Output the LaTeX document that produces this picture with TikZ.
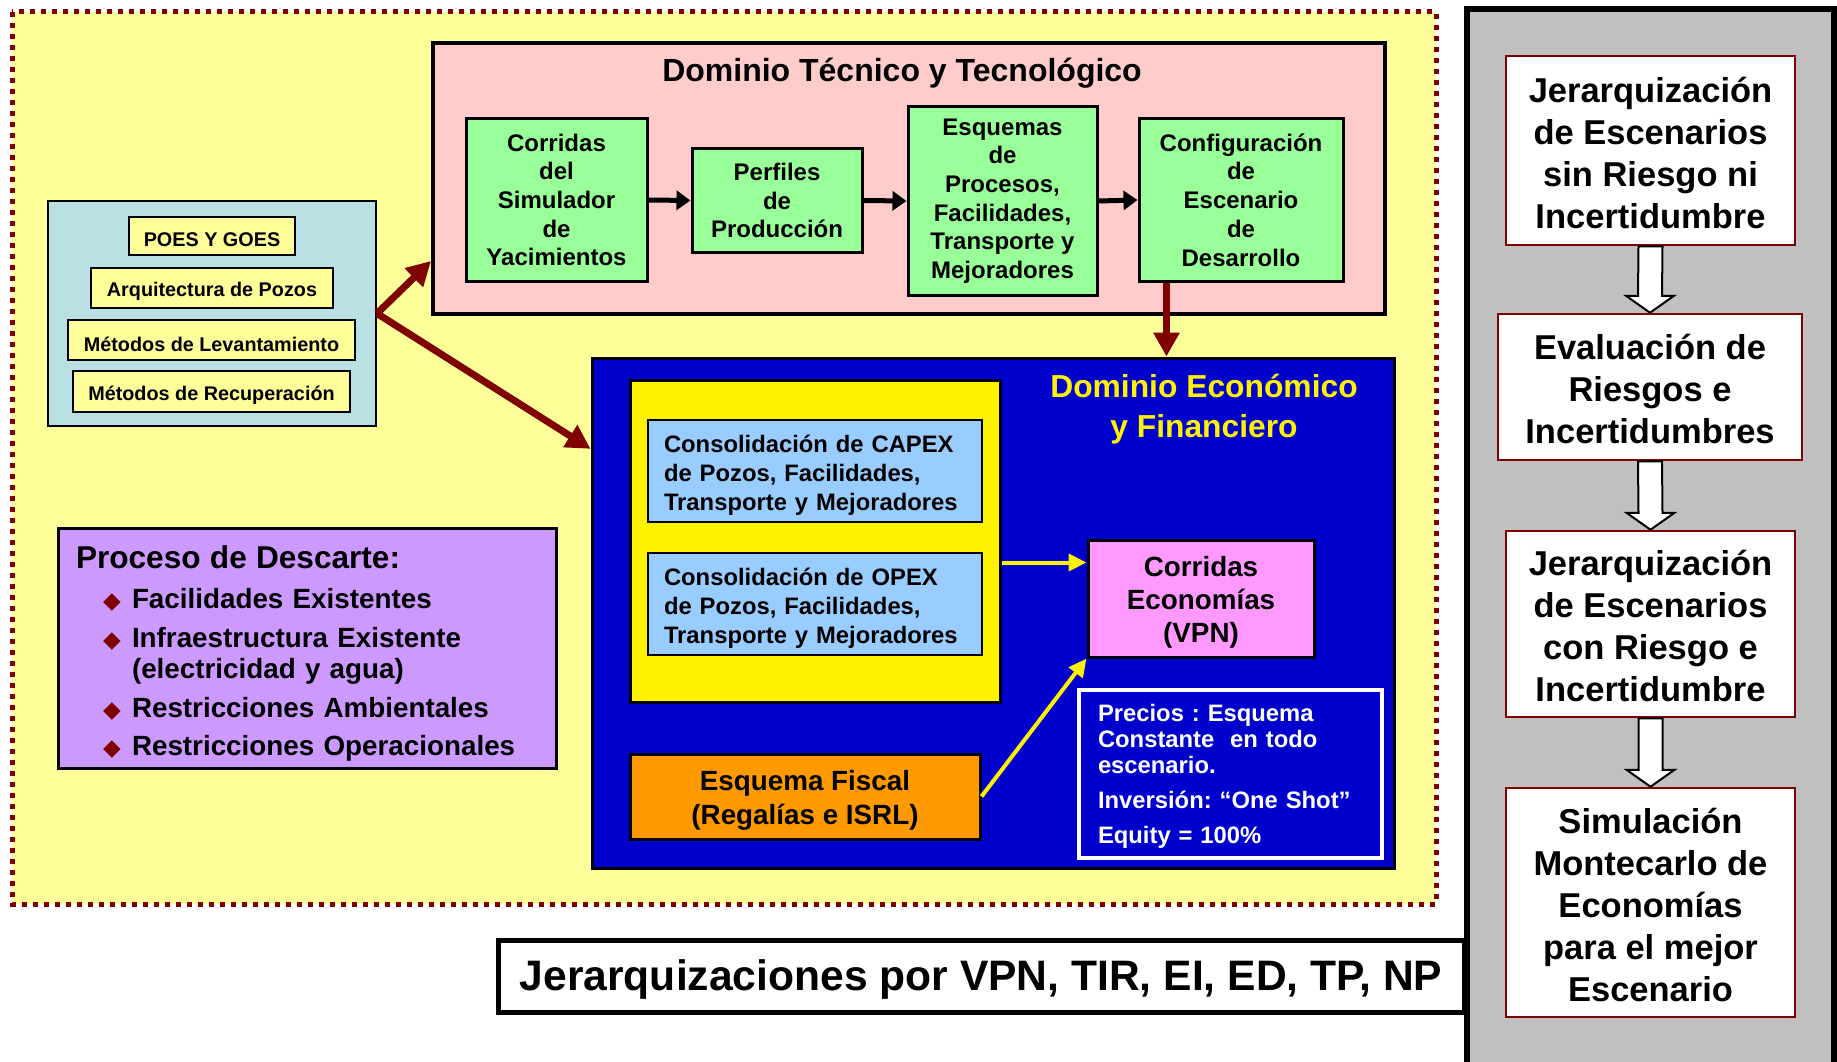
\documentclass[tikz,border=0pt]{standalone}
\usepackage{fontspec}
\setmainfont{Liberation Sans}
\newfontfamily\symfont{DejaVu Sans}
\usetikzlibrary{arrows.meta,calc}
\definecolor{maroon}{HTML}{800000}
\definecolor{bgyellow}{HTML}{FFFF99}
\definecolor{tecpink}{HTML}{FFCCCC}
\definecolor{tecgreen}{HTML}{99FF99}
\definecolor{poesblue}{HTML}{BBE0E3}
\definecolor{econblue}{HTML}{0000CC}
\definecolor{capexblue}{HTML}{99CCFF}
\definecolor{vpnpink}{HTML}{FF99FF}
\definecolor{fiscalorange}{HTML}{FF9900}
\definecolor{descpurple}{HTML}{CC99FF}
\definecolor{colgray}{HTML}{C0C0C0}
\newcommand{\dbul}{\hspace*{27pt}\makebox[29pt][l]{\symfont\fontsize{23}{23}\selectfont\color{maroon}◆}}
\newcommand{\dn}[1]{\rule{0pt}{#1pt}}
\tikzset{
  box/.style={draw, rectangle, align=center, inner sep=0pt},
  greenbox/.style={box, fill=tecgreen, line width=3pt, font=\bfseries\fontsize{24}{28.7}\selectfont},
  poesitem/.style={box, fill=bgyellow, line width=2.5pt, font=\bfseries\fontsize{19.8}{24}\selectfont},
  capexbox/.style={box, fill=capexblue, line width=2.5pt, minimum width=334, minimum height=102,
    align=left, text width=302, font=\bfseries\fontsize{23.8}{29}\selectfont},
  stepbox/.style={box, draw=maroon, fill=white, line width=2.5pt, minimum width=289,
    font=\bfseries\fontsize{34.5}{42}\selectfont},
  brownarrow/.style={maroon, line width=7pt, -{Triangle[length=24pt,width=25pt]}},
  blackarrow/.style={black, line width=5pt, -{Triangle[length=14pt,width=19pt]}},
  yellowarrow/.style={yellow, line width=4pt, -{Triangle[length=18pt,width=17pt]}}
}
\newcommand{\blockarrow}[2]{%
  \draw[fill=white, line width=2pt, line join=miter]
    ($(#1.south)+(-12,0)$) -- ($(#2.north)+(-12,-17)$) -- ($(#2.north)+(-24,-17)$) --
    (#2.north) -- ($(#2.north)+(24,-17)$) -- ($(#2.north)+(12,-17)$) --
    ($(#1.south)+(12,0)$) -- cycle;}
\begin{document}
\frenchspacing
\begin{tikzpicture}[x=1pt,y=-1pt]
  \useasboundingbox (0,0) rectangle (1837,1062);
  \fill[bgyellow] (12,12) rectangle (1436,904);
  \draw[maroon, line width=5pt, dash pattern=on 5pt off 6pt] (12,12) rectangle (1436,904);

  \node[box, fill=tecpink, line width=4pt, minimum width=952, minimum height=271] (tecnico) at (909,178.5) {};
  \node[font=\bfseries\fontsize{32}{36}\selectfont] (tectitle) at (902,70) {\dn{30}Dominio Técnico y Tecnológico};
  \node[greenbox, minimum width=181, minimum height=162] (sim) at (556.5,200) {Corridas\\del\\Simulador\\de\\Yacimientos};
  \node[greenbox, minimum width=170, minimum height=103] (perfiles) at (777,200.5) {Perfiles\\de\\Producción};
  \node[greenbox, minimum width=189, minimum height=188] (esquemas) at (1002.5,201) {Esquemas\\de\\Procesos,\\Facilidades,\\Transporte y\\Mejoradores};
  \node[greenbox, minimum width=204, minimum height=162] (config) at (1241,200) {Configuración\\de\\Escenario\\de\\Desarrollo};
  \draw[blackarrow] (sim.east) -- (perfiles.west);
  \draw[blackarrow] (perfiles.east) -- (esquemas.west);
  \draw[blackarrow] (esquemas.east) -- (config.west);

  \node[box, fill=poesblue, line width=2pt, minimum width=328, minimum height=225] (poes) at (212,313.5) {};
  \node[poesitem, minimum width=166, minimum height=38] (goes) at (212,236) {\dn{21.5}POES Y GOES};
  \node[poesitem, minimum width=242, minimum height=40] (pozos) at (212,288) {\dn{21.5}Arquitectura de Pozos};
  \node[poesitem, minimum width=287, minimum height=40] (levant) at (211.5,340) {\dn{22.5}Métodos de Levantamiento};
  \node[poesitem, minimum width=277, minimum height=41] (recup) at (211.5,391.5) {\dn{22.5}Métodos de Recuperación};

  \node[box, fill=econblue, line width=3pt, minimum width=802, minimum height=510] (economico) at (993,613) {};
  \node[text=yellow, align=center, font=\bfseries\fontsize{31.8}{40}\selectfont] (econtitle) at (1204,406) {\dn{30}Dominio Económico\\y Financiero};
  \node[box, fill=yellow, line width=3pt, minimum width=370, minimum height=322] (consol) at (815,541) {};
  \node[capexbox] (capex) at (815,471) {\dn{26}Consolidación de CAPEX\\de Pozos, Facilidades,\\Transporte y Mejoradores};
  \node[capexbox] (opex) at (815,604) {\dn{26}Consolidación de OPEX\\de Pozos, Facilidades,\\Transporte y Mejoradores};
  \node[box, fill=vpnpink, line width=3pt, minimum width=226, minimum height=117,
    font=\bfseries\fontsize{27.8}{33}\selectfont] (vpn) at (1201,598.5) {\dn{28}Corridas\\Economías\\(VPN)};
  \node[box, fill=fiscalorange, line width=3pt, minimum width=350, minimum height=85,
    font=\bfseries\fontsize{27.8}{34}\selectfont] (fiscal) at (805,796.5) {\dn{28}Esquema Fiscal\\(Regalías e ISRL)};
  \node[box, draw=white, fill=econblue, text=white, line width=4pt, minimum width=303, minimum height=168,
    align=left, text width=265, font=\bfseries\fontsize{23.8}{26}\selectfont] (precios) at (1230.5,774)
    {\dn{22}Precios : Esquema\\Constante~ en todo\\escenario.\\[9pt]Inversión: “One Shot”\\[9pt]Equity = 100\%};
  \draw[yellowarrow] (consol.east |- vpn.west) ++(0,-36) -- ($(vpn.west)+(0,-36)$);
  \draw[yellowarrow] (fiscal.east) -- (vpn.south west);

  \draw[brownarrow] (poes.east) -- ($(tecnico.south west)!0.2!(tecnico.north west)$);
  \draw[brownarrow] (poes.east) -- ($(economico.north west)!0.18!(economico.south west)$);
  \draw[brownarrow] ($(config.south west)!0.14!(config.south east)$) coordinate (cdown) -- (cdown |- economico.north);

  \node[box, fill=descpurple, line width=3pt, minimum width=498, minimum height=240,
    align=left, text width=463, font=\bfseries\fontsize{27.8}{31}\selectfont] (descarte) at (307.5,648)
    {{\fontsize{31.6}{31}\selectfont\dn{34}Proceso de Descarte:}\\[9pt]
     \dbul Facilidades Existentes\\[7.5pt]
     \dbul Infraestructura Existente\\
     \hspace*{56pt}(electricidad y agua)\\[8.5pt]
     \dbul Restricciones Ambientales\\[6.5pt]
     \dbul Restricciones Operacionales};

  \node[box, fill=white, line width=5pt, minimum width=966, minimum height=72,
    font=\bfseries\fontsize{42.6}{48}\selectfont] (ranking) at (981,976) {\dn{38}Jerarquizaciones por VPN, TIR, EI, ED, TP, NP};

  \fill[colgray] (1467,9) rectangle (1837,1062);
  \draw[line width=6pt] (1467,1062) -- (1467,9) -- (1834,9) -- (1834,1062);
  \node[stepbox, minimum height=189] (sinriesgo) at (1650.5,150.5) {\dn{30}Jerarquización\\de Escenarios\\sin Riesgo ni\\Incertidumbre};
  \node[stepbox, minimum width=304, minimum height=146] (evaluacion) at (1650,387) {\dn{30}Evaluación de\\Riesgos e\\Incertidumbres};
  \node[stepbox, minimum height=186] (conriesgo) at (1650.5,624) {\dn{30}Jerarquización\\de Escenarios\\con Riesgo e\\Incertidumbre};
  \node[stepbox, minimum height=229] (montecarlo) at (1650.5,902.5) {\dn{30}Simulación\\Montecarlo de\\Economías\\para el mejor\\Escenario};
  \blockarrow{sinriesgo}{evaluacion}
  \blockarrow{evaluacion}{conriesgo}
  \blockarrow{conriesgo}{montecarlo}
\end{tikzpicture}
\end{document}
